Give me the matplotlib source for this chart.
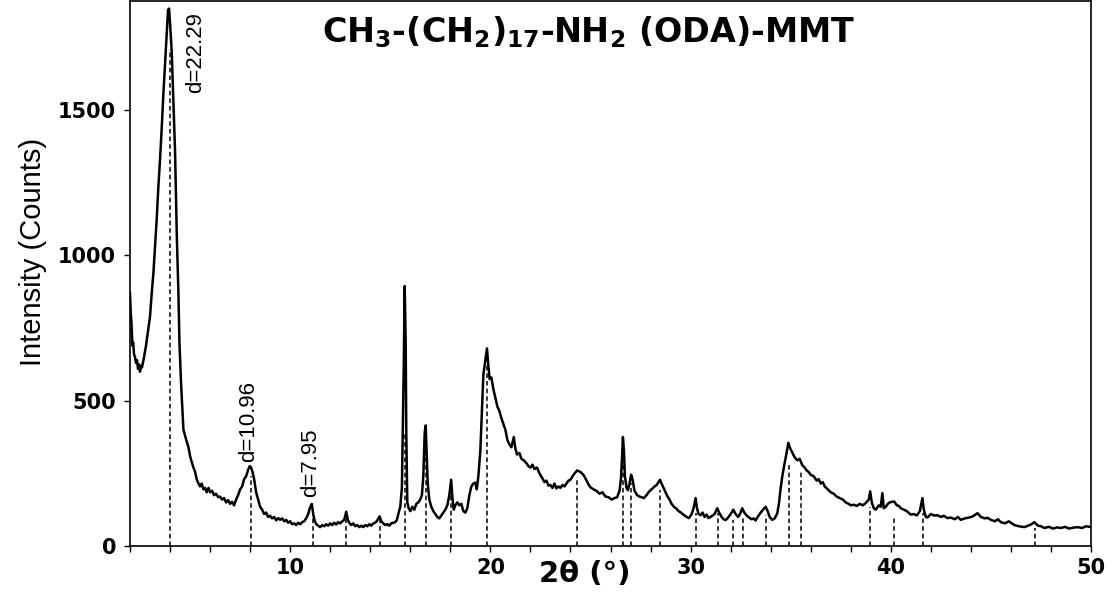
import numpy as np
import matplotlib
matplotlib.use("Agg")
import matplotlib.pyplot as plt
from matplotlib.ticker import MultipleLocator

# XRD pattern of ODA-MMT
two_theta = [
    2.00, 2.04, 2.08, 2.12, 2.16, 2.20, 2.25, 2.30, 2.35, 2.40, 2.45, 2.50, 2.55, 2.60, 2.70, 2.80, 2.90, 3.00,
    3.085, 3.17, 3.25, 3.33, 3.415, 3.50, 3.585, 3.67, 3.75, 3.82, 3.90, 3.95, 4.00, 4.085, 4.17, 4.25, 4.335,
    4.415, 4.47, 4.55, 4.67, 4.75, 4.83, 4.92, 5.00, 5.08, 5.17, 5.25, 5.33, 5.42, 5.50, 5.58, 5.67, 5.75, 5.83,
    5.92, 6.00, 6.10, 6.20, 6.30, 6.40, 6.50, 6.60, 6.70, 6.80, 6.90, 7.00, 7.10, 7.20, 7.30, 7.40, 7.50, 7.60,
    7.70, 7.80, 7.90, 7.98, 8.05, 8.12, 8.20, 8.30, 8.40, 8.50, 8.60, 8.70, 8.80, 8.90, 9.00, 9.10, 9.20, 9.30,
    9.40, 9.50, 9.60, 9.70, 9.80, 9.90, 10.00, 10.10, 10.20, 10.30, 10.40, 10.50, 10.60, 10.70, 10.80, 10.90,
    10.98, 11.08, 11.15, 11.22, 11.30, 11.40, 11.50, 11.60, 11.70, 11.80, 11.90, 12.00, 12.10, 12.20, 12.30,
    12.40, 12.50, 12.60, 12.70, 12.80, 12.88, 12.95, 13.05, 13.15, 13.25, 13.35, 13.45, 13.55, 13.65, 13.75,
    13.85, 13.95, 14.05, 14.15, 14.25, 14.35, 14.47, 14.55, 14.65, 14.75, 14.85, 14.95, 15.05, 15.15, 15.25,
    15.33, 15.42, 15.50, 15.58, 15.67, 15.72, 15.77, 15.80, 15.85, 15.92, 16.00, 16.10, 16.20, 16.30, 16.40,
    16.50, 16.58, 16.65, 16.72, 16.77, 16.82, 16.87, 16.95, 17.05, 17.15, 17.25, 17.35, 17.45, 17.55, 17.65,
    17.75, 17.85, 17.95, 18.04, 18.10, 18.17, 18.25, 18.35, 18.45, 18.55, 18.65, 18.75, 18.85, 18.95, 19.05,
    19.15, 19.25, 19.32, 19.40, 19.50, 19.58, 19.65, 19.75, 19.83, 19.90, 19.96, 20.05, 20.15, 20.25, 20.35,
    20.45, 20.55, 20.65, 20.75, 20.85, 20.95, 21.05, 21.17, 21.25, 21.33, 21.45, 21.55, 21.67, 21.80, 21.90,
    22.00, 22.10, 22.20, 22.33, 22.45, 22.58, 22.70, 22.80, 22.90, 23.00, 23.10, 23.20, 23.30, 23.40, 23.50,
    23.60, 23.70, 23.80, 23.90, 24.00, 24.15, 24.33, 24.50, 24.67, 24.80, 24.90, 25.00, 25.15, 25.30, 25.45,
    25.60, 25.75, 25.90, 26.05, 26.20, 26.33, 26.45, 26.52, 26.58, 26.62, 26.67, 26.72, 26.80, 26.87, 26.95,
    27.03, 27.10, 27.20, 27.33, 27.45, 27.55, 27.67, 27.80, 27.90, 28.00, 28.10, 28.20, 28.30, 28.40, 28.47,
    28.55, 28.65, 28.75, 28.85, 28.95, 29.05, 29.17, 29.30, 29.40, 29.50, 29.60, 29.70, 29.80, 29.92, 30.05,
    30.15, 30.25, 30.32, 30.40, 30.50, 30.60, 30.70, 30.80, 30.90, 31.00, 31.10, 31.20, 31.33, 31.45, 31.55,
    31.65, 31.75, 31.85, 31.95, 32.05, 32.13, 32.25, 32.37, 32.47, 32.58, 32.68, 32.80, 32.92, 33.05, 33.15,
    33.25, 33.35, 33.50, 33.62, 33.75, 33.85, 33.95, 34.08, 34.20, 34.33, 34.42, 34.50, 34.58, 34.67, 34.78,
    34.88, 34.95, 35.02, 35.08, 35.20, 35.33, 35.45, 35.58, 35.70, 35.80, 35.90, 36.00, 36.15, 36.30, 36.40,
    36.50, 36.60, 36.70, 36.85, 37.00, 37.15, 37.30, 37.45, 37.60, 37.75, 37.90, 38.00, 38.15, 38.30, 38.45,
    38.60, 38.75, 38.90, 38.97, 39.05, 39.15, 39.25, 39.40, 39.50, 39.58, 39.65, 39.75, 39.85, 39.95, 40.05,
    40.17, 40.30, 40.40, 40.50, 40.65, 40.80, 41.00, 41.15, 41.30, 41.45, 41.58, 41.65, 41.75, 41.83, 42.00,
    42.15, 42.33, 42.50, 42.65, 42.83, 43.00, 43.20, 43.35, 43.50, 43.70, 43.90, 44.10, 44.33, 44.50, 44.70,
    44.83, 45.00, 45.20, 45.35, 45.50, 45.70, 45.90, 46.17, 46.40, 46.67, 46.85, 47.00, 47.17, 47.35, 47.50,
    47.67, 47.90, 48.10, 48.30, 48.50, 48.70, 48.90, 49.10, 49.33, 49.55, 49.75, 50.00,
]
counts = [
    870, 800, 760, 690, 700, 660, 650, 630, 640, 610, 625, 600, 620, 615, 650, 690, 740, 790,
    870, 940, 1030, 1120, 1235, 1330, 1440, 1560, 1660, 1750, 1845, 1850, 1800, 1700, 1530, 1360, 1075,
    880, 700, 560, 400, 380, 360, 340, 310, 290, 270, 255, 230, 215, 205, 215, 195, 200, 185,
    200, 185, 190, 175, 180, 168, 170, 160, 165, 150, 158, 145, 152, 140, 160, 175, 195, 205,
    230, 240, 262, 275, 270, 255, 230, 185, 160, 135, 125, 110, 115, 100, 104, 95, 100, 88,
    96, 90, 95, 85, 90, 80, 85, 75, 78, 72, 80, 75, 82, 85, 95, 110,
    130, 145, 110, 88, 75, 70, 65, 72, 68, 75, 70, 78, 72, 80, 74,
    82, 78, 85, 90, 118, 90, 80, 72, 78, 68, 72, 65, 70, 65, 72,
    68, 75, 70, 78, 80, 88, 102, 85, 78, 72, 75, 70, 78, 80, 82,
    90, 115, 135, 200, 600, 895, 700, 390, 150, 130, 120, 135, 125, 145, 150,
    160, 175, 240, 390, 415, 320, 215, 160, 135, 120, 110, 100, 95, 105, 115,
    125, 140, 175, 228, 170, 125, 140, 150, 140, 145, 120, 115, 130, 175, 205,
    215, 218, 195, 240, 330, 470, 590, 640, 680, 620, 575, 580, 540, 510, 480,
    465, 440, 420, 400, 365, 350, 340, 375, 335, 315, 320, 300, 295, 285, 275,
    270, 280, 265, 270, 250, 235, 220, 225, 208, 210, 200, 215, 198, 205, 200,
    210, 205, 215, 225, 228, 245, 260, 255, 243, 225, 212, 202, 195, 190, 180,
    185, 170, 168, 160, 165, 168, 190, 230, 310, 375, 330, 240, 200, 192, 215,
    245, 230, 190, 175, 170, 168, 165, 175, 185, 192, 198, 205, 210, 220, 228,
    215, 200, 185, 170, 160, 145, 135, 128, 120, 116, 110, 105, 100, 96, 110,
    130, 165, 130, 110, 106, 115, 100, 108, 96, 100, 105, 110, 130, 112, 100,
    92, 89, 96, 105, 115, 125, 110, 100, 110, 130, 115, 105, 98, 92, 95,
    88, 100, 115, 125, 135, 120, 100, 90, 95, 112, 150, 200, 240, 275, 315,
    355, 340, 330, 322, 305, 295, 300, 278, 270, 260, 255, 245, 240, 225, 230,
    215, 220, 205, 195, 185, 180, 170, 165, 160, 150, 145, 140, 142, 138, 145,
    140, 148, 160, 188, 150, 130, 125, 140, 135, 182, 130, 135, 145, 150, 152,
    153, 140, 138, 130, 125, 120, 108, 110, 105, 120, 165, 125, 100, 98, 110,
    105, 106, 100, 104, 96, 98, 92, 100, 90, 95, 98, 102, 113, 100, 95,
    97, 90, 85, 92, 82, 78, 85, 72, 68, 65, 70, 74, 82, 70, 68,
    62, 66, 60, 64, 62, 66, 60, 63, 65, 62, 68, 65,
]

# reflection positions (dashed drop lines) and the height each line reaches
peak_pos = [4.0, 8.03, 11.12, 12.8, 14.5, 15.75, 16.78, 18.04, 19.84, 24.33, 26.62, 27.03,
            28.47, 30.25, 31.37, 32.13, 32.62, 33.75, 34.92, 35.5, 38.97, 40.17, 41.62, 47.22]
peak_top = [1710, 240, 113, 100, 89, 387, 353, 192, 626, 236, 339, 216,
            192, 113, 113, 89, 99, 106, 284, 260, 134, 99, 113, 62]

# d-spacing labels
d_labels = ["d=22.29", "d=10.96", "d=7.95"]
d_x = [5.3, 7.93, 11.0]
d_y = [1698, 430, 285]

plt.rcParams["mathtext.fontset"] = "dejavusans"

fig = plt.figure(figsize=(11.13, 5.98), dpi=100)
ax = fig.add_axes([130 / 1113, 1 - 546 / 598, 961 / 1113, 545 / 598])

ax.plot(two_theta, counts, color="black", lw=1.8)
ax.vlines(peak_pos, 0, peak_top, colors="black", linestyles=(0, (3, 2)), lw=1.1)

for txt, x, y in zip(d_labels, d_x, d_y):
    ax.text(x, y, txt, rotation=90, ha="center", va="center",
            fontsize=16, family="Liberation Sans")

ax.set_xlim(2, 50)
ax.set_ylim(0, 1876)
ax.xaxis.set_major_locator(MultipleLocator(10))
ax.xaxis.set_minor_locator(MultipleLocator(2))
ax.set_yticks([0, 500, 1000, 1500])

ax.tick_params(axis="both", which="both", direction="out", length=4, width=1.0, color="black")
ax.tick_params(axis="x", pad=5)
ax.tick_params(axis="y", pad=6)
for lab in ax.get_xticklabels() + ax.get_yticklabels():
    lab.set_fontweight("bold")
    lab.set_fontsize(15)
    lab.set_family("DejaVu Sans")

for sp in ax.spines.values():
    sp.set_linewidth(1.2)
    sp.set_color("black")

ax.set_ylabel("Intensity (Counts)", fontsize=21, family="Liberation Sans")
ax.yaxis.set_label_coords(-0.086, 0.54)
fig.text(585 / 1113, 1 - 574 / 598, "2θ (°)", ha="center", va="center",
         fontsize=21, fontweight="bold", family="DejaVu Sans")

fig.text(589 / 1113, 1 - 32 / 598,
         r"CH$_\mathbf{3}$-(CH$_\mathbf{2}$)$_\mathbf{17}$-NH$_\mathbf{2}$ (ODA)-MMT",
         fontsize=24, fontweight="bold", family="DejaVu Sans", ha="center", va="center")

fig.savefig("out.png", dpi=100)
